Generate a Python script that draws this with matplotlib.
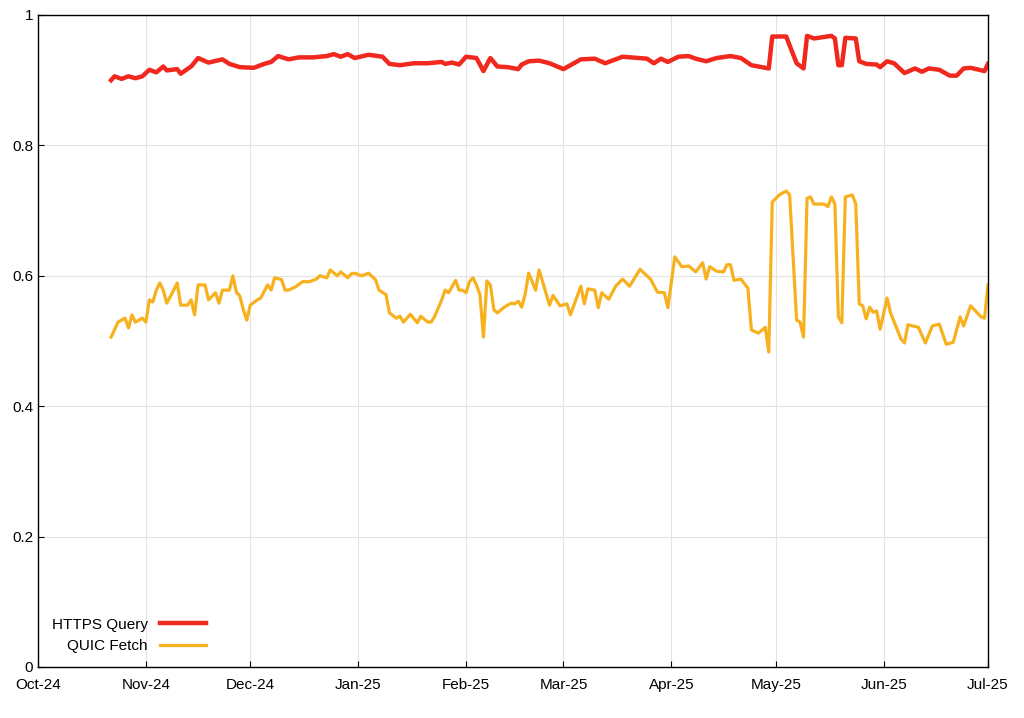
import matplotlib
matplotlib.use("Agg")
import matplotlib.pyplot as plt
import matplotlib.dates as mdates
import pandas as pd

plt.rcParams["font.family"] = "Liberation Sans"

start = pd.Timestamp("2024-10-01")

https_day = [21,22,24,26,28,30,32,34,36,37,40,41,44,46,49,53,55,58,62,65,67,69,72,75,79,83,85,87,89,91,95,99,101,104,108,112,116,117,119,121,123,126,128,130,132,135,138,139,141,144,147,151,153,156,160,163,168,175,177,179,181,184,187,189,192,195,199,202,205,207,210,211,215,218,220,221,223,228,229,230,231,232,235,236,238,241,242,244,246,249,252,254,256,259,262,264,266,268,272,273]
https_val = [.900,.906,.902,.906,.903,.906,.916,.912,.921,.915,.917,.910,.921,.934,.927,.932,.925,.920,.919,.925,.928,.937,.932,.935,.935,.937,.940,.936,.940,.934,.939,.936,.925,.923,.926,.926,.928,.925,.927,.924,.936,.934,.914,.934,.921,.920,.917,.924,.929,.930,.926,.917,.923,.932,.933,.926,.936,.933,.926,.933,.928,.936,.937,.933,.929,.934,.937,.934,.923,.921,.918,.967,.967,.926,.918,.968,.964,.968,.964,.923,.923,.965,.964,.929,.925,.924,.920,.929,.926,.911,.918,.913,.918,.916,.907,.907,.918,.919,.914,.925]

quic_day = [21,23,25,26,27,28,30,31,32,33,34,35,36,37,39,40,41,43,44,45,46,48,49,51,52,53,55,56,57,58,59,60,61,63,64,66,67,68,70,71,72,74,76,78,80,81,83,84,86,87,89,90,91,93,95,97,98,100,101,103,104,105,107,109,110,112,113,114,116,117,118,120,121,122,123,124,125,126,127,128,129,130,131,132,134,136,137,138,139,140,141,143,144,147,148,150,152,153,156,157,158,160,161,162,164,166,168,170,173,176,178,180,181,183,185,187,189,191,192,193,195,197,198,199,200,202,204,205,207,209,210,211,213,215,216,218,219,220,221,222,223,226,227,228,229,230,231,232,234,235,236,237,238,239,240,241,242,244,245,248,249,250,253,255,257,259,261,263,265,266,268,271,272,273]
quic_val = [.506,.529,.535,.520,.540,.529,.535,.529,.563,.560,.578,.589,.578,.558,.578,.589,.555,.555,.563,.540,.586,.586,.563,.574,.558,.578,.578,.600,.575,.569,.548,.532,.555,.563,.566,.586,.578,.597,.594,.578,.578,.583,.591,.591,.595,.600,.597,.609,.600,.606,.597,.603,.604,.600,.604,.594,.578,.571,.543,.535,.538,.529,.541,.528,.538,.529,.529,.538,.563,.578,.574,.593,.578,.578,.574,.591,.597,.586,.571,.506,.592,.586,.548,.543,.552,.558,.557,.561,.552,.572,.604,.578,.609,.555,.570,.554,.557,.540,.584,.557,.580,.578,.551,.574,.564,.584,.595,.584,.610,.595,.575,.574,.551,.629,.614,.615,.606,.620,.595,.614,.607,.606,.617,.617,.593,.595,.581,.517,.512,.521,.483,.713,.724,.730,.724,.532,.529,.506,.719,.721,.710,.710,.706,.721,.710,.537,.528,.721,.724,.710,.557,.554,.534,.552,.544,.546,.518,.566,.543,.503,.497,.525,.521,.497,.523,.526,.495,.498,.537,.523,.554,.537,.535,.586]

tick_months = pd.date_range("2024-10-01", "2025-07-01", freq="MS")
y_ticks = [0, 0.2, 0.4, 0.6, 0.8, 1]
y_labels = ["0", "0.2", "0.4", "0.6", "0.8", "1"]

https_dates = start + pd.to_timedelta(https_day, unit="D")
quic_dates = start + pd.to_timedelta(quic_day, unit="D")

fig = plt.figure(figsize=(10.24, 7.18), dpi=100)
ax = fig.add_axes([38/1024, 1-667/718, 950/1024, 652/718])
ax.plot(https_dates, https_val, color="#f0281e", lw=3.2, label="HTTPS Query", solid_joinstyle="round")
ax.plot(quic_dates, quic_val, color="#f8b11e", lw=2.3, label="QUIC Fetch", solid_joinstyle="round")
ax.set_xlim(tick_months[0], tick_months[-1])
ax.set_ylim(0, 1)
ax.set_xticks(tick_months)
ax.xaxis.set_major_formatter(mdates.DateFormatter("%b-%y"))
ax.set_yticks(y_ticks)
ax.set_yticklabels(y_labels)
ax.grid(True, color="#e3e3e3", lw=0.8)
ax.set_axisbelow(True)
ax.tick_params(direction="in", labelsize=11, length=4)
ax.tick_params(axis="x", pad=8)
for s in ax.spines.values():
    s.set_linewidth(1.0)
leg = ax.legend(loc="lower left", frameon=False, markerfirst=False, fontsize=11,
                handlelength=3, bbox_to_anchor=(0.0, 0.0))
fig.savefig("out.png", dpi=100)
